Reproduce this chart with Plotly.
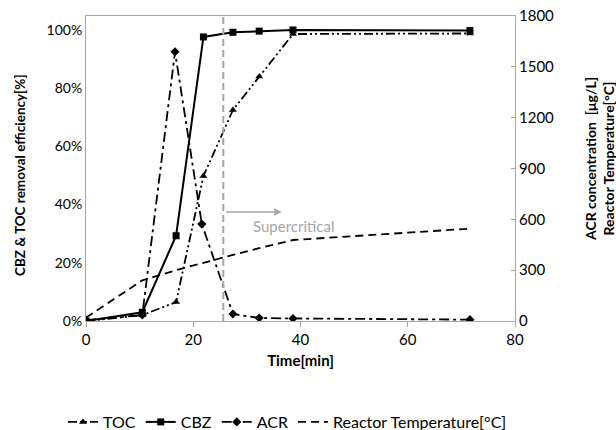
import plotly.graph_objects as go

time = [0, 10.5, 16.8, 21.9, 27.4, 32.3, 38.6, 71.6]
toc = [0.0, 0.02, 0.065, 0.498, 0.725, 0.84, 0.986, 0.988]
cbz = [0.0, 0.03, 0.293, 0.976, 0.992, 0.996, 1.0, 0.998]
acr_time = [0, 10.5, 16.6, 21.6, 27.4, 32.3, 38.6, 71.6]
acr = [5, 35, 1589, 572, 41, 18, 15, 8]
temp = [20, 240, 300, 345, 390, 430, 478, 545]

FONT = "Lato, Open Sans, sans-serif"
fig = go.Figure()
fig.add_trace(go.Scatter(x=time, y=toc, name="TOC", mode="lines+markers",
    line=dict(color="black", width=1.8, dash="9px,3px,2px,3px,2px,3px"),
    marker=dict(symbol="triangle-up", size=7, color="black")))
fig.add_trace(go.Scatter(x=time, y=cbz, name="CBZ", mode="lines+markers",
    line=dict(color="black", width=2),
    marker=dict(symbol="square", size=7, color="black")))
fig.add_trace(go.Scatter(x=acr_time, y=acr, name="ACR", mode="lines+markers", yaxis="y2",
    line=dict(color="black", width=1.8, dash="10px,4px,3px,4px"),
    marker=dict(symbol="diamond", size=7, color="black")))
fig.add_trace(go.Scatter(x=time, y=temp, name="Reactor Temperature[°C]", mode="lines", yaxis="y2",
    line=dict(color="black", width=1.8, dash="8px,5px")))

fig.add_shape(type="line", xref="x", yref="paper", x0=25.6, x1=25.6, y0=0, y1=1,
    line=dict(color="#a6a6a6", width=2, dash="7px,4px"))
fig.add_annotation(x=36.5, y=0.357, ax=25.8, ay=0.357, xref="x", yref="y domain",
    axref="x", ayref="y domain", showarrow=True, arrowhead=2, arrowsize=1, arrowwidth=1.5,
    arrowcolor="#a6a6a6", text="")
fig.add_annotation(x=30.8, y=0.31, xref="x", yref="paper", xanchor="left", yanchor="middle",
    text="Supercritical", showarrow=False, font=dict(family=FONT, size=15, color="#a6a6a6"))

# axis titles
fig.add_annotation(x=(20 - 86) / 429, y=(321 - 175) / 305, xref="paper", yref="paper",
    text="<b>CBZ & TOC removal efficiency[%]</b>", textangle=-90, showarrow=False,
    xanchor="center", yanchor="middle", font=dict(family=FONT, size=13.5, color="black"))
fig.add_annotation(x=(599 - 86) / 429, y=(321 - 159) / 305, xref="paper", yref="paper",
    text="<b>ACR concentration  [μg/L]<br>Reactor Temperature[°C]</b>", textangle=-90,
    showarrow=False, xanchor="center", yanchor="middle",
    font=dict(family=FONT, size=14, color="black"))

fig.update_layout(
    width=616, height=430, margin=dict(l=86, r=101, t=16, b=109, autoexpand=False),
    plot_bgcolor="white", paper_bgcolor="white",
    font=dict(family=FONT, size=14, color="black"),
    xaxis=dict(range=[0, 80], dtick=20, showgrid=False, zeroline=False, automargin=False,
        showline=True, linecolor="#a6a6a6", linewidth=1, mirror=True,
        ticks="outside", ticklen=5, tickcolor="#a6a6a6", tickfont=dict(size=15),
        title=dict(text="<b>Time[min]</b>", font=dict(size=15), standoff=8)),
    yaxis=dict(range=[0, 1.048], dtick=0.2, tickformat=".0%", showgrid=False, zeroline=False,
        automargin=False,
        showline=True, linecolor="#a6a6a6", linewidth=1, ticks=""),
    yaxis2=dict(range=[0, 1800], dtick=300, overlaying="y", side="right", showgrid=False,
        automargin=False, tickfont=dict(size=15),
        zeroline=False, showline=True, linecolor="#a6a6a6", linewidth=1,
        ticks="inside", ticklen=4, tickcolor="#a6a6a6"),
    legend=dict(orientation="h", xref="paper", x=(63 - 86) / 429, xanchor="left",
        yref="paper", y=(321 - 422) / 305, yanchor="middle",
        font=dict(size=16), itemwidth=30, tracegroupgap=0),
    showlegend=True,
)
fig.write_html("out.html", config={"displayModeBar": False},
               post_script="document.body.style.margin='0';")
